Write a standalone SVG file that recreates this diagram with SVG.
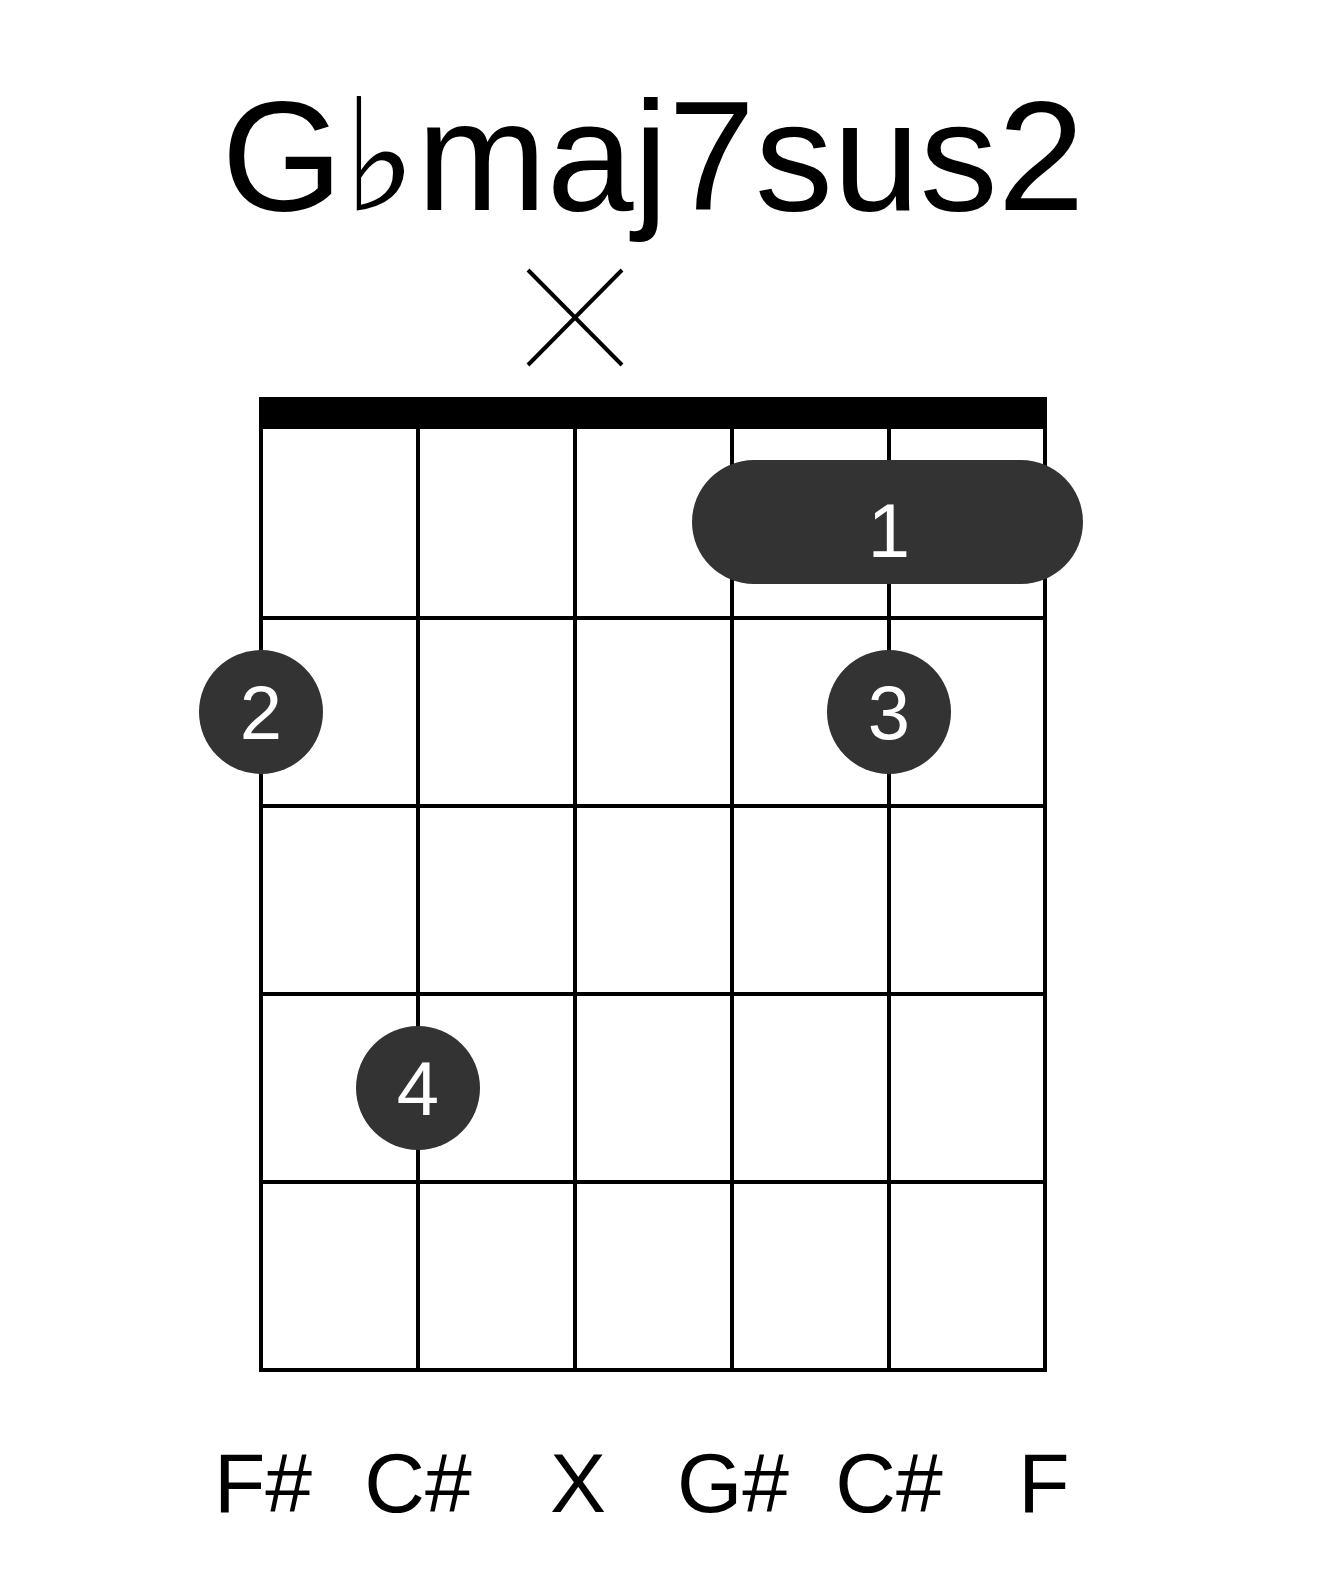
<svg xmlns="http://www.w3.org/2000/svg" width="1317" height="1581" viewBox="0 0 1317 1581">
<style>
.l{stroke:#000;stroke-width:4;fill:none}
.d{fill:#333}
.t{font-family:"Liberation Sans",Arial,sans-serif;text-anchor:middle}
.w{fill:#fff;font-size:76px}
.b{fill:#000;font-size:84px}
</style>
<rect width="1317" height="1581" fill="#fff"/>
<text class="t" x="653" y="210" font-size="156">G♭maj7sus2</text>
<g id="mute"><line class="l" x1="528" y1="270" x2="622" y2="365" stroke-width="3"/><line class="l" x1="622" y1="270" x2="528" y2="365" stroke-width="3"/></g>
<g id="grid">
<rect x="259" y="397" width="788" height="32" fill="#000"/>
<rect class="l" x="261" y="420" width="784" height="950"/>
<line class="l" x1="418" y1="420" x2="418" y2="1370"/>
<line class="l" x1="575" y1="420" x2="575" y2="1370"/>
<line class="l" x1="732" y1="420" x2="732" y2="1370"/>
<line class="l" x1="889" y1="420" x2="889" y2="1370"/>
<line class="l" x1="261" y1="618" x2="1045" y2="618"/>
<line class="l" x1="261" y1="806" x2="1045" y2="806"/>
<line class="l" x1="261" y1="994" x2="1045" y2="994"/>
<line class="l" x1="261" y1="1182" x2="1045" y2="1182"/>
</g>
<g id="barre"><rect class="d" x="692" y="460" width="391" height="124" rx="62"/><text class="t w" x="889" y="557">1</text></g>
<g id="f2"><circle class="d" cx="261" cy="712" r="62"/><text class="t w" x="261" y="739">2</text></g>
<g id="f3"><circle class="d" cx="889" cy="712" r="62"/><text class="t w" x="889" y="739">3</text></g>
<g id="f4"><circle class="d" cx="418" cy="1088" r="62"/><text class="t w" x="418" y="1115">4</text></g>
<g id="notes">
<text class="t b" x="263" y="1512">F#</text>
<text class="t b" x="418" y="1512">C#</text>
<text class="t b" x="578" y="1512">X</text>
<text class="t b" x="733" y="1512">G#</text>
<text class="t b" x="889" y="1512">C#</text>
<text class="t b" x="1044" y="1512">F</text>
</g>
</svg>
